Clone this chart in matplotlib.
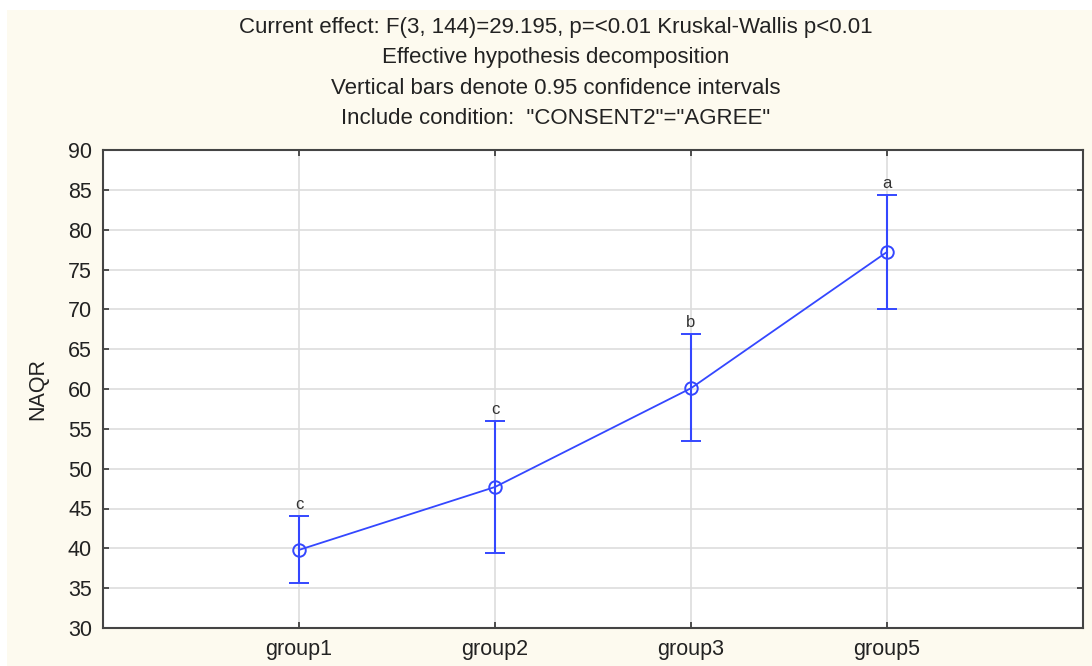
import numpy as np
import matplotlib.pyplot as plt
from matplotlib.patches import Rectangle

plt.rcParams['font.family'] = ['Liberation Sans', 'DejaVu Sans']

# group means with 0.95 confidence limits
groups = ['group1', 'group2', 'group3', 'group5']
means = [39.8, 47.7, 60.1, 77.2]
ci_low = [35.6, 39.4, 53.5, 70.0]
ci_high = [44.0, 56.0, 66.9, 84.4]
letters = ['c', 'c', 'b', 'a']

title_lines = [
    'Current effect: F(3, 144)=29.195, p=<0.01 Kruskal-Wallis p<0.01',
    'Effective hypothesis decomposition',
    'Vertical bars denote 0.95 confidence intervals',
    'Include condition:  "CONSENT2"="AGREE"',
]

blue = '#3447ff'

fig = plt.figure(figsize=(10.92, 6.66), dpi=100, facecolor='white')
fig.patches.append(Rectangle((7 / 1092, 0), 1, 656 / 666, transform=fig.transFigure,
                             facecolor='#fdfaef', edgecolor='none', zorder=-10))

ax = fig.add_axes([103 / 1092, 1 - 628 / 666, 980 / 1092, 478 / 666])
ax.set_facecolor('white')

x = np.arange(1, len(groups) + 1)
m = np.array(means)
yerr = [m - np.array(ci_low), np.array(ci_high) - m]
ax.errorbar(x, m, yerr=yerr, color=blue, lw=1.3, elinewidth=1.5, capsize=7,
            capthick=1.5, marker='o', ms=9, mfc='none', mec=blue, mew=1.4, zorder=3)

for xi, hi, lab in zip(x, ci_high, letters):
    ax.text(xi, hi + 0.5, lab, ha='center', va='bottom', fontsize=12, color='#333333')

ax.set_xlim(0, 5)
ax.set_ylim(30, 90)
ax.set_yticks(np.arange(30, 91, 5))
ax.set_xticks(x)
ax.set_xticklabels(groups)
ax.tick_params(direction='in', top=True, right=True, labelsize=15.5, length=4,
               width=1.2, color='#333333', pad=8, labelcolor='#222222')
ax.grid(True, color='#dddddd', lw=1.2)
ax.set_axisbelow(True)
for s in ax.spines.values():
    s.set_color('#444444')
    s.set_linewidth(1.5)
ax.set_ylabel('NAQR', fontsize=15.5, labelpad=14, color='#222222')

for i, line in enumerate(title_lines):
    fig.text(556 / 1092, 1 - (27 + 30.5 * i) / 666, line, ha='center', va='center',
             fontsize=16, color='#222222')

fig.savefig('out.png', dpi=100)
